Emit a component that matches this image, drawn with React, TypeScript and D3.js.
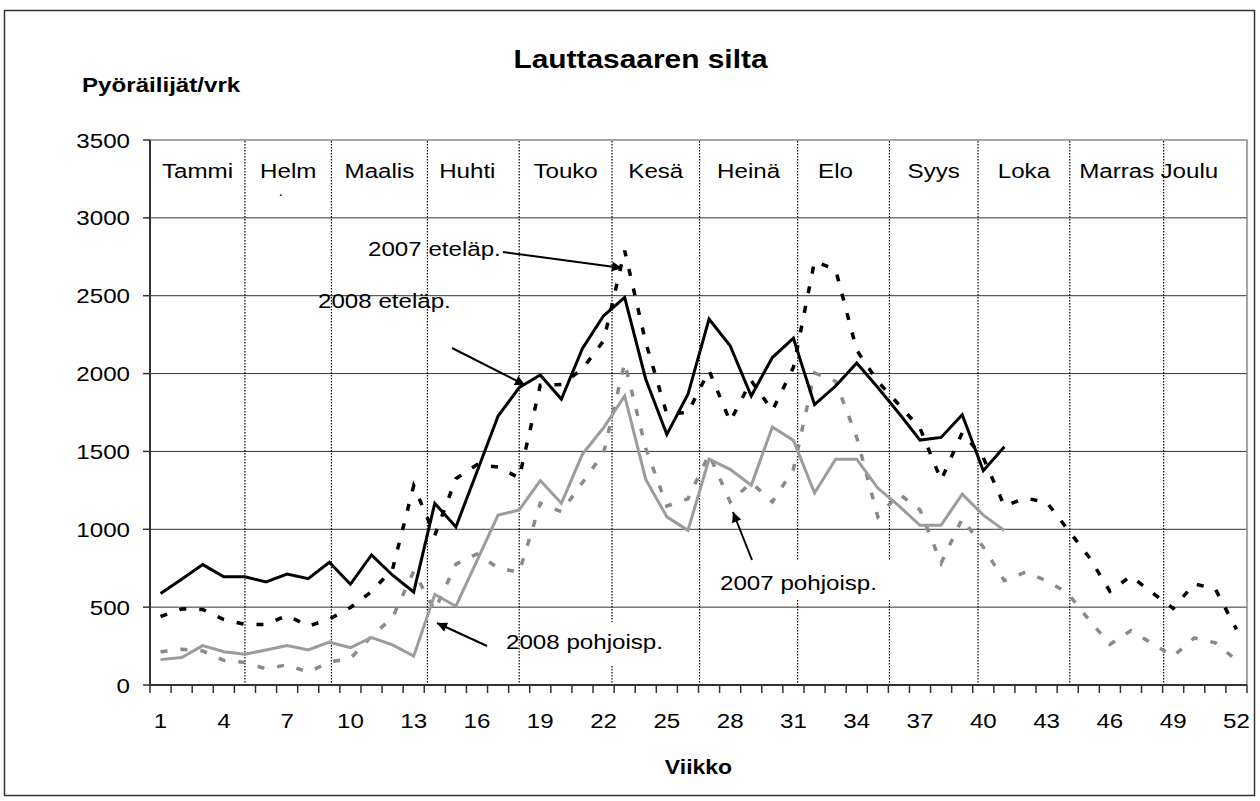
import { useRef, useEffect } from 'react';
import * as d3 from 'd3';

const W = 1260;
const H = 801;
const M = { left: 150, right: 1247, top: 140, bottom: 685 };
const FONT = "Arial, 'Liberation Sans', sans-serif";
const STRETCH = 1.15;

const weeks = d3.range(1, 53);
const xTickWeeks = weeks.filter(w => (w - 1) % 3 === 0);
const yTicks = [0, 500, 1000, 1500, 2000, 2500, 3000, 3500];
const gridTicks = [500, 1000, 1500, 2000, 2500, 3000];

const months = ['Tammi', 'Helm', 'Maalis', 'Huhti', 'Touko', 'Kesä', 'Heinä', 'Elo', 'Syys', 'Loka', 'Marras', 'Joulu'];
// month boundaries in week units, as drawn
const monthStarts = [4.5, 8.6, 13.15, 17.5, 21.9, 26.05, 30.7, 35.05, 39.25, 43.6, 48.05];

const etela2008 = [588, 679, 773, 695, 695, 662, 712, 683, 788, 647, 835, 705, 597,
  1167, 1015, 1370, 1727, 1910, 1991, 1835, 2162, 2371,
  2489, 1964, 1609, 1867, 2350, 2179, 1856, 2103, 2227,
  1800, 1920, 2068, 1910, 1745, 1573, 1590, 1735, 1376, 1530];
const etela2007 = [440, 488, 485, 420, 390, 388, 447, 378, 423, 498, 600, 745, 1280,
  960, 1325, 1415, 1400, 1330, 1925, 1930, 2030, 2210, 2790,
  2200, 1740, 1750, 2020, 1692, 1955, 1762, 2040, 2720, 2668,
  2150, 1950, 1800, 1650, 1315, 1620, 1460, 1150, 1200, 1174,
  1000, 824, 602, 699, 593, 492, 650, 616, 357];
const pohjois2008 = [163, 176, 253, 214, 198, 225, 253, 225, 275, 240, 305, 258, 185,
  582, 506, 798, 1091, 1124, 1313, 1167, 1483, 1652,
  1856, 1320, 1080, 993, 1450, 1385, 1283, 1657, 1571,
  1233, 1450, 1450, 1265, 1150, 1026, 1026, 1226, 1091, 993];
const pohjois2007 = [214, 229, 218, 158, 145, 104, 130, 81, 148, 170, 313, 434, 730,
  480, 776, 841, 752, 724, 1167, 1113, 1300, 1490, 2070,
  1520, 1150, 1196, 1482, 1176, 1300, 1176, 1385, 2005, 1950,
  1590, 1080, 1228, 1125, 782, 1068, 885, 670, 725, 670,
  591, 420, 261, 349, 267, 184, 302, 271, 159];

const series = [
  { name: '2007 pohjoisp.', values: pohjois2007, color: '#8a8a8a', width: 3.5, dash: '7,13' },
  { name: '2008 pohjoisp.', values: pohjois2008, color: '#9c9c9c', width: 3, dash: null },
  { name: '2007 eteläp.', values: etela2007, color: '#000', width: 3.5, dash: '7,13' },
  { name: '2008 eteläp.', values: etela2008, color: '#000', width: 3, dash: null },
];

export default function App() {
  const svgRef = useRef<SVGSVGElement | null>(null);

  useEffect(() => {
    document.body.style.margin = '0';
    const svg = d3.select(svgRef.current);
    svg.selectAll('*').remove();

    const x = d3.scaleLinear().domain([0, 52]).range([M.left, M.right]);
    const xc = (w: number) => x(w - 0.5);
    const y = d3.scaleLinear().domain([0, 3500]).range([M.bottom, M.top]);

    const text = (tx: number, ty: number, s: string, size: number, opts: any = {}) =>
      svg.append('text')
        .attr('transform', `translate(${tx},${ty}) scale(${STRETCH},1)`)
        .attr('text-anchor', opts.anchor || 'start')
        .attr('font-family', FONT)
        .attr('font-size', size)
        .attr('font-weight', opts.bold ? 'bold' : 'normal')
        .attr('fill', '#000')
        .text(s);

    svg.append('rect').attr('width', W).attr('height', H).attr('fill', '#fff');
    svg.append('rect').attr('x', 4.5).attr('y', 10.5).attr('width', 1250).attr('height', 785)
      .attr('fill', 'none').attr('stroke', '#333').attr('stroke-width', 1.5);

    const defs = svg.append('defs');
    defs.append('marker').attr('id', 'ah').attr('viewBox', '0 0 10 10')
      .attr('refX', 10).attr('refY', 5).attr('markerWidth', 7).attr('markerHeight', 7)
      .attr('markerUnits', 'userSpaceOnUse').attr('orient', 'auto')
      .append('path').attr('d', 'M0,0 L10,5 L0,10 Z').attr('fill', '#000');
    // marker drawn in absolute size
    defs.select('#ah').attr('markerWidth', 12).attr('markerHeight', 10);

    // gridlines
    svg.append('g').selectAll('line').data(gridTicks).join('line')
      .attr('x1', M.left).attr('x2', M.right)
      .attr('y1', d => y(d)).attr('y2', d => y(d))
      .attr('stroke', '#333').attr('stroke-width', 1);

    // plot frame top/right
    svg.append('path')
      .attr('d', `M${M.left},${y(3500)}H${M.right}V${M.bottom}`)
      .attr('fill', 'none').attr('stroke', '#888').attr('stroke-width', 1.5);

    // month dividers
    svg.append('g').selectAll('line').data(monthStarts).join('line')
      .attr('x1', d => x(d)).attr('x2', d => x(d))
      .attr('y1', M.top + 1).attr('y2', M.bottom)
      .attr('stroke', '#000').attr('stroke-width', 1.2).attr('stroke-dasharray', '1.5,1.5');

    // label boxes that hide dividers
    svg.append('rect').attr('x', 530).attr('y', 622).attr('width', 140).attr('height', 44).attr('fill', '#fff');
    svg.append('rect').attr('x', 716).attr('y', 560).attr('width', 186).attr('height', 40).attr('fill', '#fff');

    // month labels
    months.forEach((m, i) => {
      const a = i === 0 ? 0 : monthStarts[i - 1];
      const b = i === 11 ? 52 : monthStarts[i];
      let cx = x((a + b) / 2);
      if (m === 'Joulu') cx -= 16;
      if (m === 'Elo') cx -= 8;
      if (m === 'Huhti') cx -= 6;
      text(cx, 178, m, 21, { anchor: 'middle' });
    });
    text(x(6.2), 196, '.', 14, { anchor: 'middle' });

    // series
    const line = d3.line<number>().x((_, i) => xc(i + 1)).y(d => y(d));
    series.forEach(s => {
      svg.append('path').datum(s.values)
        .attr('d', line)
        .attr('fill', 'none').attr('stroke', s.color).attr('stroke-width', s.width)
        .attr('stroke-linejoin', 'miter')
        .attr('stroke-dasharray', s.dash);
    });

    // axes
    svg.append('line').attr('x1', M.left).attr('x2', M.left).attr('y1', M.top).attr('y2', M.bottom)
      .attr('stroke', '#333').attr('stroke-width', 2);
    svg.append('line').attr('x1', M.left - 1).attr('x2', M.right).attr('y1', M.bottom).attr('y2', M.bottom)
      .attr('stroke', '#333').attr('stroke-width', 2);

    svg.append('g').selectAll('line').data(yTicks).join('line')
      .attr('x1', M.left - 7).attr('x2', M.left).attr('y1', d => y(d)).attr('y2', d => y(d))
      .attr('stroke', '#333').attr('stroke-width', 1.5);
    yTicks.forEach(t => text(M.left - 20, y(t) + 7.5, String(t), 21, { anchor: 'end' }));

    svg.append('g').selectAll('line').data(d3.range(0, 53)).join('line')
      .attr('x1', d => x(d)).attr('x2', d => x(d)).attr('y1', M.bottom).attr('y2', M.bottom + 8)
      .attr('stroke', '#333').attr('stroke-width', 1.5);
    xTickWeeks.forEach(w => text(xc(w), 728, String(w), 21, { anchor: 'middle' }));

    // titles
    text((M.left + M.right) / 2 - 58, 68, 'Lauttasaaren silta', 26, { anchor: 'middle', bold: true });
    text(82, 92, 'Pyöräilijät/vrk', 21, { bold: true });
    text((M.left + M.right) / 2, 774, 'Viikko', 20, { anchor: 'middle', bold: true });

    // annotations
    const arrow = (x1: number, y1: number, x2: number, y2: number) =>
      svg.append('line').attr('x1', x1).attr('y1', y1).attr('x2', x2).attr('y2', y2)
        .attr('stroke', '#000').attr('stroke-width', 2).attr('marker-end', 'url(#ah)');

    text(368, 256, '2007 eteläp.', 21);
    arrow(503, 252, 622, 268);
    text(318, 308, '2008 eteläp.', 21);
    arrow(452, 348, 525, 385);
    text(506, 649, '2008 pohjoisp.', 21);
    arrow(487, 646, 437, 623);
    text(720, 590, '2007 pohjoisp.', 21);
    arrow(752, 560, 733, 512);
  }, []);

  return <svg ref={svgRef} width={W} height={H} style={{ display: 'block' }} />;
}
